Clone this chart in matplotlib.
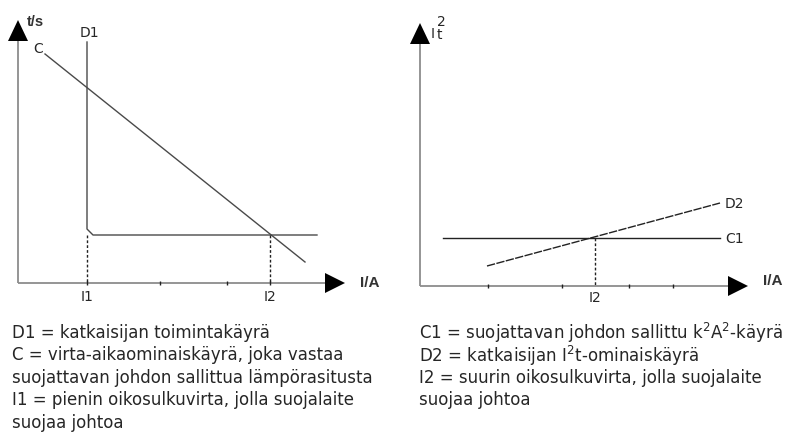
import matplotlib
matplotlib.use("Agg")
import matplotlib.pyplot as plt
from matplotlib.patches import Polygon

plt.rcParams['mathtext.fontset'] = 'dejavusans'

# --- left diagram: time-current curves (pixel-like coordinates) ---
left_origin = (18, 284)
left_yaxis_top = 42
left_xaxis_end = 325
c_curve_x = [45, 305]
c_curve_y = [55, 263]
d1_curve_x = [87, 87, 89, 93, 317]
d1_curve_y = [43, 230, 232, 236, 236]
i1_x, i2_x = 87, 270
left_level = 236
left_ticks = [87, 160, 227, 270]

# --- right diagram: I2t curves ---
right_origin = (420, 287)
right_yaxis_top = 45
right_xaxis_end = 728
c1_x = [443, 720]
c1_y = [239, 239]
d2_x = [487, 720]
d2_y = [267, 204]
i2_right_x = 595
right_ticks = [488, 562, 629, 673]

left_notes = [
    "D1 = katkaisijan toimintakäyrä",
    "C = virta-aikaominaiskäyrä, joka vastaa",
    "suojattavan johdon sallittua lämpörasitusta",
    "I1 = pienin oikosulkuvirta, jolla suojalaite",
    "suojaa johtoa",
]
right_notes = [
    "C1 = suojattavan johdon sallittu k$^2$A$^2$-käyrä",
    "D2 = katkaisijan I$^2$t-ominaiskäyrä",
    "I2 = suurin oikosulkuvirta, jolla suojalaite",
    "suojaa johtoa",
]
note_y = [333, 355.5, 378, 400.5, 423]

fig = plt.figure(figsize=(7.95, 4.35), dpi=100)
ax = fig.add_axes([0, 0, 1, 1])
ax.set_xlim(0, 795)
ax.set_ylim(435, 0)
ax.axis('off')

axis_col = '#8c8c8c'
line_col = '#4a4a4a'
txt_col = '#262626'
note_font = dict(fontsize=12, family='DejaVu Sans', color=txt_col,
                 va='center', ha='left')
lab_font = dict(fontsize=10, family='DejaVu Sans', color=txt_col, va='center')
unit_font = dict(fontsize=11, fontweight='bold', family='Liberation Sans',
                 color='#333333', va='center', ha='left')


def draw_axes(origin, ytop, xend):
    ox, oy = origin
    ax.plot([ox, ox], [oy, ytop], color=axis_col, lw=1.3, solid_capstyle='butt')
    ax.plot([ox, xend], [oy, oy], color=axis_col, lw=1.3, solid_capstyle='butt')
    ax.add_patch(Polygon([(ox - 10, ytop), (ox + 10, ytop), (ox, ytop - 21)],
                         closed=True, color='black', lw=0))
    ax.add_patch(Polygon([(xend, oy - 10), (xend, oy + 10), (xend + 20, oy)],
                         closed=True, color='black', lw=0))


# left
draw_axes(left_origin, left_yaxis_top, left_xaxis_end)
ax.plot(c_curve_x, c_curve_y, color=line_col, lw=1.0)
ax.plot(d1_curve_x, d1_curve_y, color=line_col, lw=1.0)
for x in (i1_x, i2_x):
    ax.plot([x, x], [left_level, left_origin[1]], color='#222222', lw=1.0,
            ls=(0, (2, 1.5)))
ax.plot(left_ticks, [left_origin[1]] * len(left_ticks), ls='none', marker='|',
        ms=3, color='#222222', mew=1)
ax.text(27, 22, "t/s", **dict(unit_font, fontsize=10.5))
ax.text(33, 49, "C", **lab_font)
ax.text(89, 33, "D1", ha='center', **lab_font)
ax.text(i1_x, 297, "I1", ha='center', **lab_font)
ax.text(i2_x, 297, "I2", ha='center', **lab_font)
ax.text(360, 283, "I/A", **unit_font)

# right
draw_axes(right_origin, right_yaxis_top, right_xaxis_end)
ax.plot(c1_x, c1_y, color='#222222', lw=1.0)
ax.plot(d2_x, d2_y, color='#222222', lw=1.0, ls=(0, (6, 1)))
ax.plot([i2_right_x, i2_right_x], [c1_y[0], right_origin[1]], color='#222222',
        lw=1.0, ls=(0, (2, 1.5)))
ax.plot(right_ticks, [right_origin[1]] * len(right_ticks), ls='none', marker='|',
        ms=3, color='#222222', mew=1)
ax.text(431, 34, "I", **lab_font)
ax.text(437, 22, "2", **lab_font)
ax.text(437, 35, "t", **lab_font)
ax.text(725, d2_y[1], "D2", **lab_font)
ax.text(725, c1_y[1], "C1", **lab_font)
ax.text(i2_right_x, 298, "I2", ha='center', **lab_font)
ax.text(763, 281, "I/A", **unit_font)

# legends below the diagrams
for y, s in zip(note_y, left_notes):
    ax.text(12, y, s, **note_font)
for y, s in zip(note_y, right_notes):
    ax.text(419, y, s, **note_font)

fig.savefig("out.png", dpi=100)
